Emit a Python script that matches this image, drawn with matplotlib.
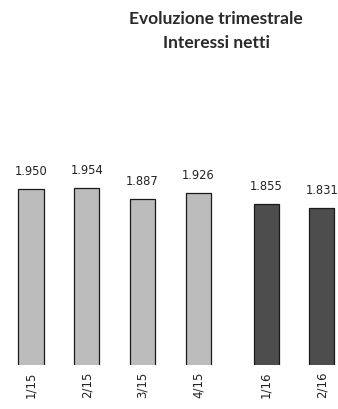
import matplotlib.pyplot as plt
import numpy as np

# dati trimestrali - interessi netti (mln)
trimestri = ["1/15", "2/15", "3/15", "4/15", "1/16", "2/16"]
valori = [1950, 1954, 1887, 1926, 1855, 1831]
etichette = ["1.950", "1.954", "1.887", "1.926", "1.855", "1.831"]
anni = [2015, 2015, 2015, 2015, 2016, 2016]

colori = {2015: "#bcbcbc", 2016: "#4d4d4d"}

# piccolo stacco tra un anno e l'altro
x = np.arange(len(trimestri)) + np.array([0.22 if a == 2016 else 0 for a in anni])

fig = plt.figure(figsize=(3.38, 4.09), dpi=100)
ax = fig.add_axes([0, 44 / 409, 1, 265 / 409])

ax.bar(x, valori, width=0.45, color=[colori[a] for a in anni],
       edgecolor="#1a1a1a", linewidth=0.9)

for xi, v, lab in zip(x, valori, etichette):
    ax.annotate(lab, (xi, v), xytext=(0, 8), textcoords="offset points",
                ha="center", va="bottom", fontsize=8.3, color="#222222")

ax.set_xlim(-0.557, 5.51)
ax.set_ylim(850, 2506)
ax.set_xticks(x)
ax.set_xticklabels(trimestri, rotation=90, fontsize=8.5, color="#222222")
ax.tick_params(axis="x", length=0, pad=5)
ax.set_yticks([])
for s in ax.spines.values():
    s.set_visible(False)

fig.text(0.64, 1 - 19 / 409, "Evoluzione trimestrale", ha="center", va="center",
         fontsize=12.5, fontweight="bold", family="Lato", color="#2a2a2a")
fig.text(0.64, 1 - 43 / 409, "Interessi netti", ha="center", va="center",
         fontsize=12.5, fontweight="bold", family="Lato", color="#2a2a2a")

fig.savefig("out.png", dpi=100)
